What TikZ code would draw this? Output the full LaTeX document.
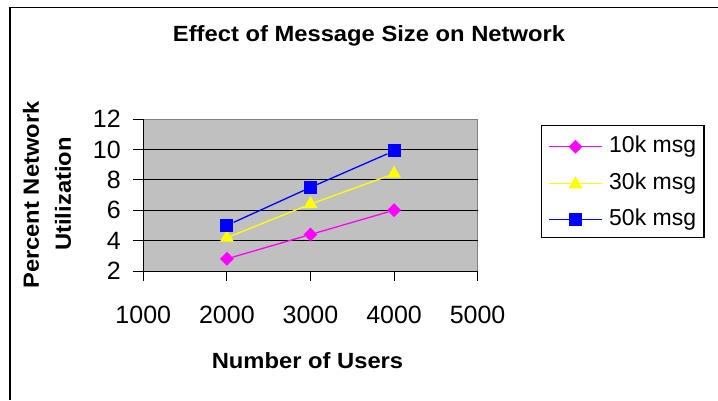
\documentclass[tikz,border=0pt]{standalone}
\usepackage{fontspec}
\setmainfont{Liberation Sans}
\usetikzlibrary{shapes.geometric}
\definecolor{plotgray}{RGB}{192,192,192}
\definecolor{bordergray}{RGB}{128,128,128}
\definecolor{mag}{RGB}{255,0,255}
\definecolor{yel}{RGB}{255,255,0}
\definecolor{blu}{RGB}{0,0,255}
\newcommand{\boldlab}[1]{\scalebox{1.08}[1]{\fontsize{22}{26}\selectfont\bfseries #1}}
\begin{document}
\begin{tikzpicture}[x=1pt,y=-1pt,
  ticklab/.style={inner sep=0pt,font=\fontsize{25}{30}\selectfont},
  leglab/.style={inner sep=0pt,anchor=west,font=\fontsize{23}{27}\selectfont},
  dmark/.style={diamond,fill=mag,inner sep=0pt,minimum width=14,minimum height=14},
  tmark/.style={regular polygon,regular polygon sides=3,fill=yel,inner sep=0pt,minimum size=16},
  smark/.style={rectangle,fill=blu,inner sep=0pt,minimum size=13},
  serline/.style={line width=1.3pt},
  grid/.style={line width=0.9pt,black},
  axis/.style={line width=1pt,black}]
\useasboundingbox (0,0) rectangle (718,400);
\fill[white] (0,0) rectangle (718,400);
% outer frame
\draw[line width=1.2pt] (10,400) -- (10,7.5) -- (718,7.5);
% title
\node[inner sep=0pt] (title) at (369,36) {\boldlab{Effect of Message Size on Network}};
% plot area
\fill[plotgray] (143.3,119) rectangle (477.6,271);
\draw[bordergray,line width=1pt] (143.3,119) -- (477.6,119) -- (477.6,271);
\foreach \yy in {149.4,179.8,210.2,240.6} \draw[grid] (143.3,\yy) -- (477.6,\yy);
\draw[axis] (143.3,119) -- (143.3,271) -- (477.6,271);
% y ticks and labels
\foreach \yy/\lab in {119/12,149.4/10,179.8/8,210.2/6,240.6/4,271/2} {
  \draw[axis] (133,\yy) -- (143.3,\yy);
  \node[ticklab,anchor=east] (y\lab) at (121,\yy) {\lab};
}
% x ticks and labels
\foreach \xx/\lab in {143.3/1000,226.9/2000,310.5/3000,394.1/4000,477.6/5000} {
  \draw[axis] (\xx,271) -- (\xx,281);
  \node[ticklab] (x\lab) at (\xx,315) {\lab};
}
% axis titles
\node[inner sep=0pt] (xtitle) at (307.5,361) {\boldlab{Number of Users}};
\node[inner sep=0pt,rotate=90] (ytitle1) at (31,195) {\boldlab{Percent Network}};
\node[inner sep=0pt,rotate=90] (ytitle2) at (63,194) {\boldlab{Utilization}};
% data: y = 271 - (v-2)*15.2
% 10k: 2.8, 4.4, 6.0
\node[dmark] (a1) at (226.9,258.8) {};
\node[dmark] (a2) at (310.5,234.5) {};
\node[dmark] (a3) at (394.1,210.2) {};
% 30k: 4.2, 6.4, 8.4
\node[tmark] (b1) at (226.9,237.6) {};
\node[tmark] (b2) at (310.5,204.1) {};
\node[tmark] (b3) at (394.1,173.7) {};
% 50k: 5, 7.5, 9.9
\node[smark] (c1) at (226.9,225.4) {};
\node[smark] (c2) at (310.5,187.4) {};
\node[smark] (c3) at (394.1,150.9) {};
\draw[serline,mag] (a1) -- (a2) -- (a3);
\draw[serline,yel] (b1) -- (b2) -- (b3);
\draw[serline,blu] (c1) -- (c2) -- (c3);
% legend
\draw[line width=1.2pt] (541.5,125.5) rectangle (704,237.3);
\coordinate (l1s) at (549,146.7); \coordinate (l1e) at (602,146.7);
\coordinate (l2s) at (549,183.3); \coordinate (l2e) at (602,183.3);
\coordinate (l3s) at (549,219.3); \coordinate (l3e) at (602,219.3);
\draw[serline,mag] (l1s) -- (l1e);
\draw[serline,yel] (l2s) -- (l2e);
\draw[serline,blu] (l3s) -- (l3e);
\node[dmark] (lm1) at (575.5,146.7) {};
\node[tmark] (lm2) at (575.5,184.3) {};
\node[smark] (lm3) at (575.5,219.3) {};
\node[leglab] (lt1) at (609,146.7) {10k msg};
\node[leglab] (lt2) at (609,183.3) {30k msg};
\node[leglab] (lt3) at (609,219.3) {50k msg};
\end{tikzpicture}
\end{document}
